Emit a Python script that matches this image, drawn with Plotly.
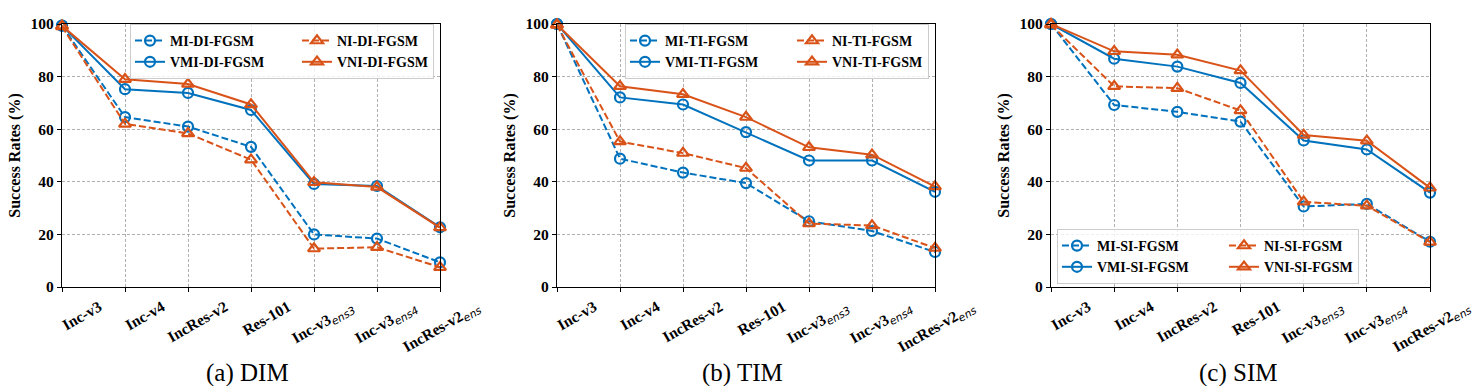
import plotly.graph_objects as go

# ---------------- data ----------------
categories = ["Inc-v3", "Inc-v4", "IncRes-v2", "Res-101", "Inc-v3ens3", "Inc-v3ens4", "IncRes-v2ens"]
SUB = "<sub><span style='font-family:DejaVu Sans;font-style:italic;font-weight:normal'>{}</span></sub>"
tick_labels = ["Inc-v3", "Inc-v4", "IncRes-v2", "Res-101",
               "Inc-v3" + SUB.format("ens3"), "Inc-v3" + SUB.format("ens4"), "IncRes-v2" + SUB.format("ens")]
y_ticks = [0, 20, 40, 60, 80, 100]

dim_mi = [99.4, 64.6, 61.0, 53.3, 20.0, 18.4, 9.4]
dim_vmi = [99.4, 75.2, 73.8, 67.3, 39.2, 38.4, 22.7]
dim_ni = [99.0, 62.0, 58.4, 48.4, 14.6, 15.1, 7.5]
dim_vni = [99.3, 79.0, 77.2, 69.4, 39.8, 38.0, 22.6]

tim_mi = [100.0, 48.8, 43.5, 39.5, 25.0, 21.3, 13.3]
tim_vmi = [100.0, 72.1, 69.4, 58.9, 48.1, 48.1, 36.2]
tim_ni = [99.6, 55.3, 50.9, 45.2, 24.1, 23.4, 14.8]
tim_vni = [99.8, 76.3, 73.3, 64.6, 53.1, 50.3, 38.2]

sim_mi = [100.0, 69.2, 66.6, 62.9, 30.6, 31.6, 17.2]
sim_vmi = [100.0, 86.8, 83.8, 77.6, 55.7, 52.3, 35.9]
sim_ni = [99.7, 76.3, 75.6, 67.1, 32.4, 30.9, 17.1]
sim_vni = [100.0, 89.6, 88.3, 82.3, 57.8, 55.6, 37.7]

panels = [
    ("DI", "(a) DIM", dim_mi, dim_vmi, dim_ni, dim_vni),
    ("TI", "(b) TIM", tim_mi, tim_vmi, tim_ni, tim_vni),
    ("SI", "(c) SIM", sim_mi, sim_vmi, sim_ni, sim_vni),
]

# ---------------- style ----------------
W, H = 1480, 386
BLUE = "#0072BD"
ORANGE = "#D95319"
SERIF = "Liberation Serif"
x_px = [(62, 440), (557, 935), (1051, 1430)]
y_top, y_bot = 24, 287
legend_pos = [
    dict(x=434 / W, y=1 - 24 / H, xanchor="right", yanchor="top"),
    dict(x=929 / W, y=1 - 24 / H, xanchor="right", yanchor="top"),
    dict(x=1057 / W, y=1 - 284 / H, xanchor="left", yanchor="bottom"),
]

fig = go.Figure()
xs = list(range(len(categories)))
layout = dict(
    width=W, height=H, template="none",
    margin=dict(l=0, r=0, t=0, b=0),
    paper_bgcolor="white", plot_bgcolor="white",
    showlegend=True, annotations=[],
)

for i, (tag, caption, mi, vmi, ni, vni) in enumerate(panels):
    sfx = "" if i == 0 else str(i + 1)
    xa, ya = "x" + sfx, "y" + sfx
    leg = "legend" + sfx
    series = [
        ("MI-%s-FGSM" % tag, mi, BLUE, "7px,3px", "circle-open", "b"),
        ("VMI-%s-FGSM" % tag, vmi, BLUE, "solid", "circle-open", "b"),
        ("NI-%s-FGSM" % tag, ni, ORANGE, "7px,3px", "triangle-up-open", "o"),
        ("VNI-%s-FGSM" % tag, vni, ORANGE, "solid", "triangle-up-open", "o"),
    ]
    for name, vals, col, dash, sym, grp in series:
        extra = dict(legendwidth=122) if grp == "b" else {}
        fig.add_trace(go.Scatter(
            x=xs, y=vals, name=name, mode="lines+markers",
            xaxis=xa, yaxis=ya, legend=leg, legendgroup=leg + grp,
            line=dict(color=col, width=2, dash=dash),
            marker=dict(symbol=sym, size=10 if "circle" in sym else 10.5,
                        color=col, line=dict(color=col, width=2.2)),
            cliponaxis=False, **extra,
        ))
    x0, x1 = x_px[i]
    layout["xaxis" + sfx] = dict(
        domain=[x0 / W, x1 / W], anchor=ya, range=[0, 6],
        tickmode="array", tickvals=xs, ticktext=tick_labels, tickangle=-30,
        ticklabelshift=37,
        tickfont=dict(family=SERIF, size=15.5, color="black", weight="bold"),
        showline=True, linecolor="black", linewidth=1.3, mirror=True,
        ticks="outside", ticklen=4, tickcolor="black", tickwidth=1,
        showgrid=True, gridcolor="#b0b0b0", gridwidth=0.8, griddash="3px,2px",
        zeroline=False, automargin=False,
    )
    layout["yaxis" + sfx] = dict(
        domain=[1 - y_bot / H, 1 - y_top / H], anchor=xa, range=[0, 100],
        tickmode="array", tickvals=y_ticks,
        tickfont=dict(family=SERIF, size=15.5, color="black", weight="bold"),
        title=dict(text="Success Rates (%)", font=dict(family=SERIF, size=16, color="black", weight="bold")),
        showline=True, linecolor="black", linewidth=1.3, mirror=True,
        ticks="outside", ticklen=4, tickcolor="black", tickwidth=1,
        showgrid=True, gridcolor="#b0b0b0", gridwidth=0.8, griddash="3px,2px",
        zeroline=False, automargin=False,
    )
    layout[leg] = dict(
        **legend_pos[i], orientation="h", traceorder="grouped",
        font=dict(family=SERIF, size=14, color="black", weight="bold"),
        bgcolor="rgba(255,255,255,0.8)", bordercolor="#cccccc", borderwidth=1,
        tracegroupgap=0, itemwidth=30,
    )
    layout["annotations"].append(dict(
        text=caption, xref="paper", yref="paper",
        x=(x0 + x1) / 2 / W - 3 / W, y=1 - 373 / H, xanchor="center", yanchor="middle",
        showarrow=False, font=dict(family=SERIF, size=25, color="black"),
    ))

fig.update_layout(**layout)
fig.write_html("out.html", config={"displayModeBar": False},
               post_script="document.body.style.margin='0';document.body.style.overflow='hidden';")
